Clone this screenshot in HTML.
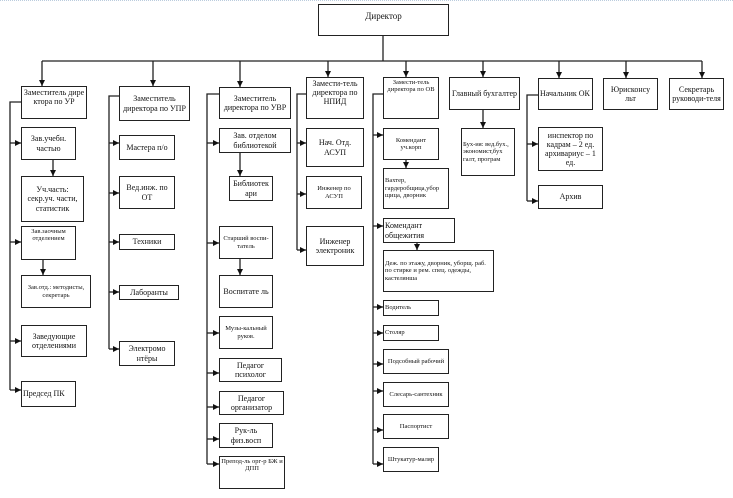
<!DOCTYPE html>
<html><head><meta charset="utf-8"><style>
body{margin:0;width:733px;height:498px;background:#fff;position:relative;overflow:hidden;font-family:"Liberation Serif","DejaVu Serif",serif;}
.b{position:absolute;box-sizing:border-box;border:1.5px solid #222;background:#fff;display:flex;align-items:center;justify-content:center;text-align:center;font-size:8px;line-height:1.15;color:#111;padding:1px;}
.s{font-size:6.5px;}
.l{justify-content:flex-start;text-align:left;}
svg{position:absolute;left:0;top:0;}
</style></head><body>
<svg width="733" height="498">
<defs><marker id="a" markerWidth="6" markerHeight="6" refX="6" refY="3" orient="auto" markerUnits="userSpaceOnUse"><path d="M0,0L6,3L0,6z" fill="#111"/></marker></defs>
<line x1="0" y1="0.5" x2="733" y2="0.5" stroke="#bcd" stroke-dasharray="1,1"/>
<g stroke="#222" stroke-width="1.3" fill="none">
<line x1="383" y1="36" x2="383" y2="61"/>
<line x1="42" y1="61" x2="702" y2="61"/>
<line x1="42" y1="61" x2="42" y2="86" marker-end="url(#a)"/>
<line x1="153" y1="61" x2="153" y2="86" marker-end="url(#a)"/>
<line x1="240" y1="61" x2="240" y2="87" marker-end="url(#a)"/>
<line x1="328" y1="61" x2="328" y2="77" marker-end="url(#a)"/>
<line x1="406" y1="61" x2="406" y2="77" marker-end="url(#a)"/>
<line x1="483" y1="61" x2="483" y2="77" marker-end="url(#a)"/>
<line x1="559" y1="61" x2="559" y2="78" marker-end="url(#a)"/>
<line x1="626" y1="61" x2="626" y2="78" marker-end="url(#a)"/>
<line x1="702" y1="61" x2="702" y2="78" marker-end="url(#a)"/>
<!-- col1 -->
<polyline points="21,102 10,102 10,390"/>
<line x1="10" y1="143" x2="21" y2="143" marker-end="url(#a)"/>
<line x1="10" y1="242" x2="21" y2="242" marker-end="url(#a)"/>
<line x1="10" y1="341" x2="21" y2="341" marker-end="url(#a)"/>
<line x1="10" y1="390" x2="21" y2="390" marker-end="url(#a)"/>
<line x1="53" y1="160" x2="53" y2="176" marker-end="url(#a)"/>
<line x1="43" y1="260" x2="43" y2="275" marker-end="url(#a)"/>
<!-- col2 -->
<polyline points="119,96 109,96 109,349"/>
<line x1="109" y1="143" x2="119" y2="143" marker-end="url(#a)"/>
<line x1="109" y1="193" x2="119" y2="193" marker-end="url(#a)"/>
<line x1="109" y1="242" x2="119" y2="242" marker-end="url(#a)"/>
<line x1="109" y1="292" x2="119" y2="292" marker-end="url(#a)"/>
<line x1="109" y1="349" x2="119" y2="349" marker-end="url(#a)"/>
<!-- col3 -->
<polyline points="219,94 207,94 207,464"/>
<line x1="207" y1="143" x2="219" y2="143" marker-end="url(#a)"/>
<line x1="207" y1="243" x2="219" y2="243" marker-end="url(#a)"/>
<line x1="207" y1="333" x2="219" y2="333" marker-end="url(#a)"/>
<line x1="207" y1="373" x2="219" y2="373" marker-end="url(#a)"/>
<line x1="207" y1="407" x2="219" y2="407" marker-end="url(#a)"/>
<line x1="207" y1="439" x2="219" y2="439" marker-end="url(#a)"/>
<line x1="207" y1="464" x2="219" y2="464" marker-end="url(#a)"/>
<line x1="240" y1="153" x2="240" y2="176" marker-end="url(#a)"/>
<line x1="240" y1="259" x2="240" y2="275" marker-end="url(#a)"/>
<!-- col4 -->
<polyline points="306,94 297,94 297,250"/>
<line x1="297" y1="143" x2="306" y2="143" marker-end="url(#a)"/>
<line x1="297" y1="194" x2="306" y2="194" marker-end="url(#a)"/>
<line x1="297" y1="250" x2="306" y2="250" marker-end="url(#a)"/>
<!-- col5 -->
<polyline points="383,94 373,94 373,464"/>
<line x1="373" y1="135" x2="383" y2="135" marker-end="url(#a)"/>
<line x1="373" y1="226" x2="383" y2="226" marker-end="url(#a)"/>
<line x1="373" y1="307" x2="383" y2="307" marker-end="url(#a)"/>
<line x1="373" y1="333" x2="383" y2="333" marker-end="url(#a)"/>
<line x1="373" y1="364" x2="383" y2="364" marker-end="url(#a)"/>
<line x1="373" y1="391" x2="383" y2="391" marker-end="url(#a)"/>
<line x1="373" y1="430" x2="383" y2="430" marker-end="url(#a)"/>
<line x1="373" y1="464" x2="383" y2="464" marker-end="url(#a)"/>
<line x1="406" y1="160" x2="406" y2="168" marker-end="url(#a)"/>
<line x1="417" y1="243" x2="417" y2="250" marker-end="url(#a)"/>
<!-- col6 -->
<line x1="483" y1="110" x2="483" y2="128" marker-end="url(#a)"/>
<!-- col7 -->
<polyline points="538,95 527,95 527,201"/>
<line x1="527" y1="144" x2="538" y2="144" marker-end="url(#a)"/>
<line x1="527" y1="201" x2="538" y2="201" marker-end="url(#a)"/>
</g>
</svg>

<div class="b" style="left:318px;top:4px;width:131px;height:32px;font-size:9px;align-items:flex-start;padding-top:6px">Директор</div>

<div class="b" style="left:21px;top:86px;width:66px;height:33px;align-items:flex-start">Заместитель дире ктора по УР</div>
<div class="b" style="left:21px;top:127px;width:55px;height:33px">Зав.учебн. частью</div>
<div class="b" style="left:21px;top:176px;width:63px;height:46px">Уч.часть: секр.уч. части, статистик</div>
<div class="b s" style="left:21px;top:226px;width:55px;height:34px;align-items:flex-start">Зав.заочным отделением</div>
<div class="b s" style="left:21px;top:275px;width:70px;height:33px">Зав.отд.: методисты, секретарь</div>
<div class="b" style="left:21px;top:325px;width:66px;height:32px">Заведующие отделениями</div>
<div class="b l" style="left:21px;top:381px;width:55px;height:26px">Председ ПК</div>

<div class="b" style="left:119px;top:86px;width:71px;height:35px">Заместитель директора по УПР</div>
<div class="b" style="left:119px;top:135px;width:56px;height:25px">Мастера п/о</div>
<div class="b" style="left:119px;top:176px;width:56px;height:33px">Вед.инж. по ОТ</div>
<div class="b" style="left:119px;top:234px;width:56px;height:16px">Техники</div>
<div class="b" style="left:119px;top:285px;width:60px;height:15px">Лаборанты</div>
<div class="b" style="left:119px;top:341px;width:56px;height:25px">Электромо нтёры</div>

<div class="b" style="left:219px;top:87px;width:72px;height:32px">Заместитель директора по УВР</div>
<div class="b" style="left:219px;top:128px;width:72px;height:25px">Зав. отделом библиотекой</div>
<div class="b" style="left:229px;top:176px;width:44px;height:25px">Библиотек ари</div>
<div class="b s" style="left:219px;top:226px;width:54px;height:33px">Старший воспи-татель</div>
<div class="b" style="left:219px;top:275px;width:54px;height:33px">Воспитате ль</div>
<div class="b s" style="left:219px;top:316px;width:54px;height:33px">Музы-кальный руков.</div>
<div class="b" style="left:219px;top:358px;width:63px;height:24px">Педагог психолог</div>
<div class="b" style="left:219px;top:391px;width:65px;height:24px">Педагог организатор</div>
<div class="b" style="left:219px;top:423px;width:54px;height:25px">Рук-ль физ.восп</div>
<div class="b s" style="left:219px;top:456px;width:66px;height:33px;align-items:flex-start">Препод-ль орг-р БЖ и ДПП</div>

<div class="b" style="left:306px;top:77px;width:58px;height:42px;align-items:flex-start">Замести-тель директора по НПИД</div>
<div class="b" style="left:306px;top:128px;width:58px;height:39px">Нач. Отд. АСУП</div>
<div class="b s" style="left:306px;top:176px;width:56px;height:33px">Инженер по АСУП</div>
<div class="b" style="left:306px;top:226px;width:58px;height:40px">Инженер электроник</div>

<div class="b s" style="left:383px;top:77px;width:56px;height:42px;align-items:flex-start">Замести-тель директора по ОВ</div>
<div class="b s" style="left:383px;top:128px;width:56px;height:32px">Комендант уч.корп</div>
<div class="b s l" style="left:383px;top:168px;width:66px;height:41px">Вахтер, гардеробщица,убор щица, дворник</div>
<div class="b l" style="left:383px;top:218px;width:72px;height:25px">Комендант общежития</div>
<div class="b s l" style="left:383px;top:250px;width:111px;height:42px">Деж. по этажу, дворник, уборщ. раб. по стирке и рем. спец. одежды, кастелянша</div>
<div class="b s l" style="left:383px;top:300px;width:56px;height:16px">Водитель</div>
<div class="b s l" style="left:383px;top:325px;width:56px;height:16px">Столяр</div>
<div class="b s" style="left:383px;top:349px;width:66px;height:25px">Подсобный рабочий</div>
<div class="b s" style="left:383px;top:382px;width:66px;height:25px">Слесарь-сантехник</div>
<div class="b s" style="left:383px;top:414px;width:66px;height:25px">Паспортист</div>
<div class="b s" style="left:383px;top:447px;width:56px;height:25px">Штукатур-маляр</div>

<div class="b" style="left:449px;top:77px;width:71px;height:33px">Главный бухгалтер</div>
<div class="b s l" style="left:461px;top:128px;width:54px;height:48px">Бух-ия: вед.бух., экономист,бух галт, програм</div>

<div class="b l" style="left:538px;top:78px;width:55px;height:32px">Начальник ОК</div>
<div class="b" style="left:538px;top:127px;width:65px;height:44px">инспектор по кадрам – 2 ед. архивариус – 1 ед.</div>
<div class="b" style="left:538px;top:185px;width:65px;height:24px">Архив</div>
<div class="b" style="left:603px;top:78px;width:55px;height:32px">Юрисконсу льт</div>
<div class="b" style="left:669px;top:78px;width:55px;height:32px">Секретарь руководи-теля</div>
</body></html>
